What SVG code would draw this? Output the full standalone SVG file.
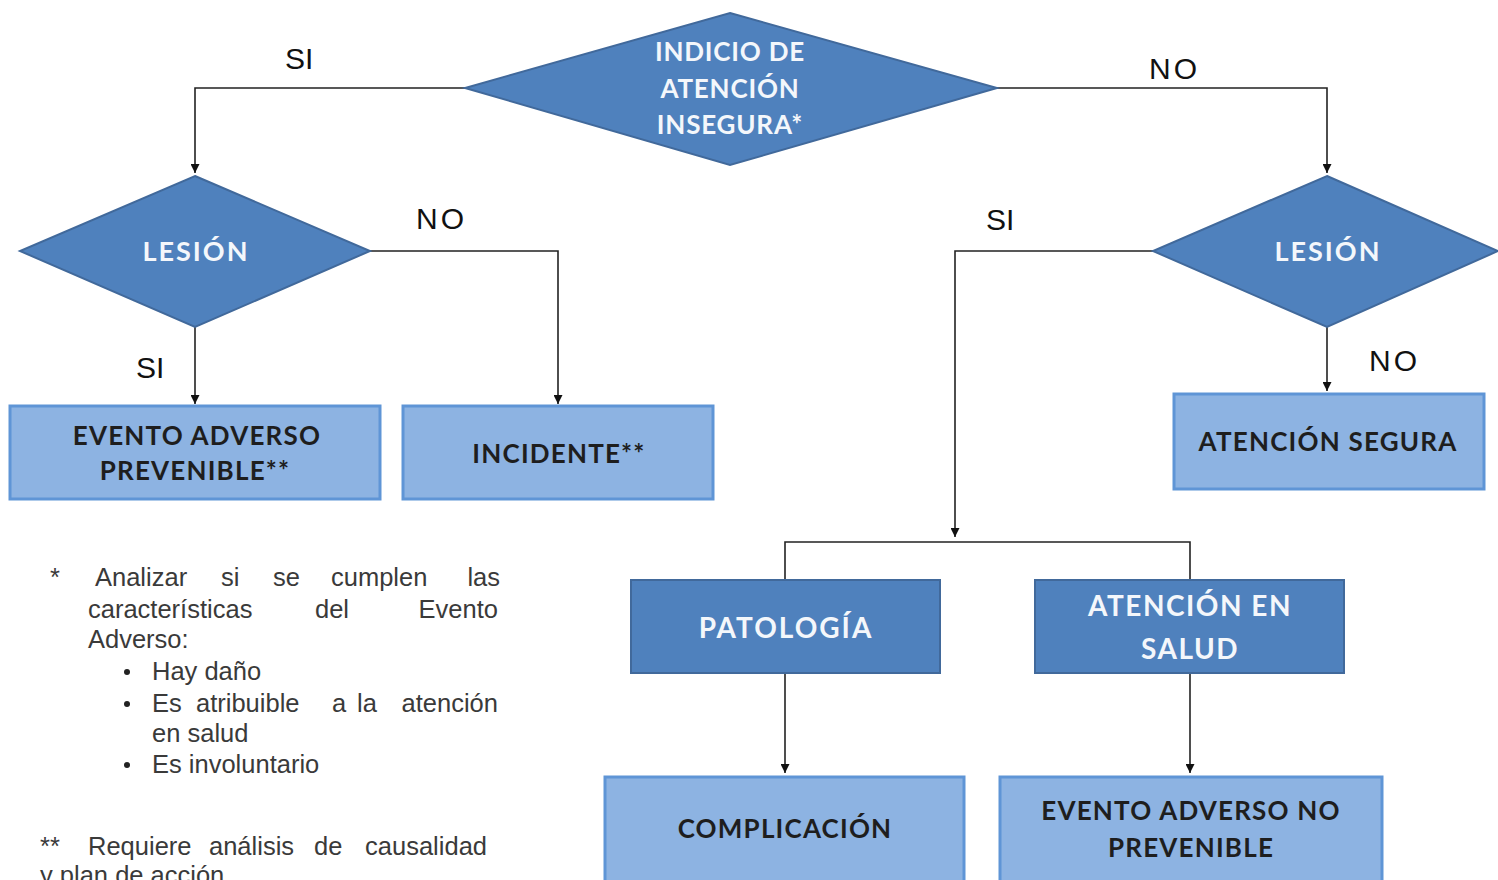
<svg xmlns="http://www.w3.org/2000/svg" width="1498" height="880" viewBox="0 0 1498 880">
<defs>
<marker id="arr" viewBox="0 0 10 10" refX="10" refY="5" markerWidth="9" markerHeight="9" markerUnits="userSpaceOnUse" orient="auto">
<path d="M0,0 L10,5 L0,10 z" fill="#111"/>
</marker>
</defs>
<style>
.dk{fill:#4f81bd;stroke:#41699b;stroke-width:2}
.lt{fill:#8db3e2;stroke:#5f95d6;stroke-width:3}
.wt{font-family:Lato,"Liberation Sans",sans-serif;font-weight:700;fill:#f4f7fb;text-anchor:middle}
.bt{font-family:Lato,"Liberation Sans",sans-serif;font-weight:700;fill:#1e1e1e;text-anchor:middle;font-size:26px;letter-spacing:1.2px}
.lbl{font-family:"Liberation Sans",sans-serif;font-size:30px;fill:#111}
.no{letter-spacing:3px}
.fn{font-family:"Liberation Sans",sans-serif;font-size:25.5px;fill:#3a3a3a}
.ln{fill:none;stroke:#222;stroke-width:1.6}
</style>
<rect width="1498" height="880" fill="#fff"/>
<g id="connectors">
<path class="ln" d="M465,88 H195 V173" marker-end="url(#arr)"/>
<path class="ln" d="M997,88 H1327 V173" marker-end="url(#arr)"/>
<path class="ln" d="M195,327 V404" marker-end="url(#arr)"/>
<path class="ln" d="M370,251 H558 V404" marker-end="url(#arr)"/>
<path class="ln" d="M1327,327 V391" marker-end="url(#arr)"/>
<path class="ln" d="M1153,251 H955 V537" marker-end="url(#arr)"/>
<path class="ln" d="M785,580 V542 H1190 V580"/>
<path class="ln" d="M785,673 V773" marker-end="url(#arr)"/>
<path class="ln" d="M1190,673 V773" marker-end="url(#arr)"/>
<text class="lbl" x="285" y="69">SI</text>
<text class="lbl no" x="1149" y="79">NO</text>
<text class="lbl no" x="416" y="229">NO</text>
<text class="lbl" x="136" y="378">SI</text>
<text class="lbl" x="986" y="230">SI</text>
<text class="lbl no" x="1369" y="371">NO</text>
</g>
<g id="n-indicio">
<polygon class="dk" points="730,13 997,88 730,165 465,88"/>
<text class="wt" font-size="26" letter-spacing="0.8" x="730" y="61">INDICIO DE</text>
<text class="wt" font-size="26" letter-spacing="0.8" x="730" y="98">ATENCIÓN</text>
<text class="wt" font-size="26" letter-spacing="0.8" x="730" y="134">INSEGURA*</text>
</g>
<g id="n-lesion-left">
<polygon class="dk" points="195,176 370,251 195,327 20,251"/>
<text class="wt" font-size="27" letter-spacing="2" x="196" y="261">LESIÓN</text>
</g>
<g id="n-lesion-right">
<polygon class="dk" points="1327,176 1498,251 1327,327 1153,251"/>
<text class="wt" font-size="27" letter-spacing="2" x="1328" y="261">LESIÓN</text>
</g>
<g id="n-eap">
<rect class="lt" x="10" y="406" width="370" height="93"/>
<text class="bt" x="197" y="445">EVENTO ADVERSO</text>
<text class="bt" x="195" y="480">PREVENIBLE**</text>
</g>
<g id="n-incidente">
<rect class="lt" x="403" y="406" width="310" height="93"/>
<text class="bt" x="559" y="463">INCIDENTE**</text>
</g>
<g id="n-segura">
<rect class="lt" x="1174" y="394" width="310" height="95"/>
<text class="bt" x="1328" y="451">ATENCIÓN SEGURA</text>
</g>
<g id="n-patologia">
<rect class="dk" x="631" y="580" width="309" height="93"/>
<text class="wt" font-size="28" letter-spacing="2" x="786" y="638">PATOLOGÍA</text>
</g>
<g id="n-atencion-salud">
<rect class="dk" x="1035" y="580" width="309" height="93"/>
<text class="wt" font-size="28" letter-spacing="1.5" x="1190" y="616">ATENCIÓN EN</text>
<text class="wt" font-size="28" letter-spacing="1.5" x="1190" y="659">SALUD</text>
</g>
<g id="n-complicacion">
<rect class="lt" x="605" y="777" width="359" height="110"/>
<text class="bt" x="785" y="838">COMPLICACIÓN</text>
</g>
<g id="n-eanp">
<rect class="lt" x="1000" y="777" width="382" height="110"/>
<text class="bt" x="1191" y="820">EVENTO ADVERSO NO</text>
<text class="bt" x="1191" y="857">PREVENIBLE</text>
</g>
<g id="footnotes">
<text class="fn" x="50" y="586">*</text>
<text class="fn" x="95" y="586">Analizar</text>
<text class="fn" x="221" y="586">si</text>
<text class="fn" x="273" y="586">se</text>
<text class="fn" x="331" y="586">cumplen</text>
<text class="fn" x="500" y="586" text-anchor="end">las</text>
<text class="fn" x="88" y="618">características</text>
<text class="fn" x="315" y="618">del</text>
<text class="fn" x="498" y="618" text-anchor="end">Evento</text>
<text class="fn" x="88" y="648">Adverso:</text>
<circle cx="127" cy="672" r="3" fill="#222"/>
<circle cx="127" cy="704" r="3" fill="#222"/>
<circle cx="127" cy="765" r="3" fill="#222"/>
<text class="fn" x="152" y="680">Hay daño</text>
<text class="fn" x="152" y="712">Es</text>
<text class="fn" x="196" y="712">atribuible</text>
<text class="fn" x="332" y="712">a</text>
<text class="fn" x="357" y="712">la</text>
<text class="fn" x="498" y="712" text-anchor="end">atención</text>
<text class="fn" x="152" y="742">en salud</text>
<text class="fn" x="152" y="773">Es involuntario</text>
<text class="fn" x="40" y="855">**</text>
<text class="fn" x="88" y="855">Requiere</text>
<text class="fn" x="209" y="855">análisis</text>
<text class="fn" x="314" y="855">de</text>
<text class="fn" x="487" y="855" text-anchor="end">causalidad</text>
<text class="fn" x="40" y="884">y plan de acción</text>
</g>
</svg>
